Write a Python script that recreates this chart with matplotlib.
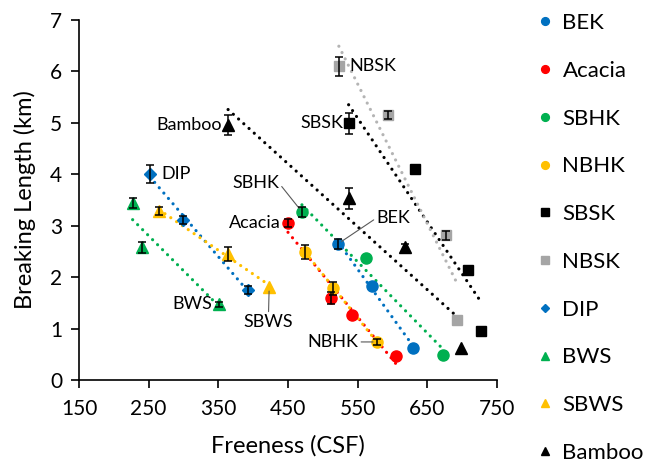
import numpy as np
import matplotlib
matplotlib.use('Agg')
from matplotlib import pyplot as plt

plt.rcParams['font.family'] = ['Lato', 'DejaVu Sans']

# ---------------------------------------------- #
# Data: freeness (CSF), breaking length (km), error (0 = no bar)
# ---------------------------------------------- #
names = ['BEK', 'Acacia', 'SBHK', 'NBHK', 'SBSK', 'NBSK', 'DIP', 'BWS', 'SBWS', 'Bamboo']

bek_x = [522, 570, 630]
bek_y = [2.65, 1.83, 0.63]
bek_err = [0.1, 0, 0]

acacia_x = [450, 512, 542, 605]
acacia_y = [3.06, 1.60, 1.26, 0.47]
acacia_err = [0.08, 0.12, 0, 0]

sbhk_x = [470, 562, 673]
sbhk_y = [3.27, 2.38, 0.48]
sbhk_err = [0.1, 0, 0]

nbhk_x = [475, 515, 578]
nbhk_y = [2.49, 1.78, 0.74]
nbhk_err = [0.14, 0.12, 0.05]

sbsk_x = [537, 633, 708, 727]
sbsk_y = [4.99, 4.10, 2.14, 0.96]
sbsk_err = [0.2, 0, 0, 0]

nbsk_x = [523, 594, 677, 693]
nbsk_y = [6.10, 5.15, 2.81, 1.17]
nbsk_err = [0.19, 0.08, 0.08, 0]

dip_x = [252, 299, 393]
dip_y = [4.01, 3.11, 1.75]
dip_err = [0.18, 0.07, 0.08]

bws_x = [227, 240, 351]
bws_y = [3.44, 2.58, 1.47]
bws_err = [0.09, 0.11, 0.05]

sbws_x = [265, 364, 423]
sbws_y = [3.29, 2.45, 1.81]
sbws_err = [0.08, 0.13, 0]

bamboo_x = [364, 538, 618, 698]
bamboo_y = [4.96, 3.53, 2.59, 0.62]
bamboo_err = [0.2, 0.2, 0.06, 0]

series = [
    (bek_x, bek_y, bek_err),
    (acacia_x, acacia_y, acacia_err),
    (sbhk_x, sbhk_y, sbhk_err),
    (nbhk_x, nbhk_y, nbhk_err),
    (sbsk_x, sbsk_y, sbsk_err),
    (nbsk_x, nbsk_y, nbsk_err),
    (dip_x, dip_y, dip_err),
    (bws_x, bws_y, bws_err),
    (sbws_x, sbws_y, sbws_err),
    (bamboo_x, bamboo_y, bamboo_err),
]

# styles
colors = ['#0070C0', '#FF0000', '#00B050', '#FFC000', '#000000',
          '#A5A5A5', '#0070C0', '#00B050', '#FFC000', '#000000']
trend_colors = ['#0070C0', '#FF0000', '#00B050', '#FFC000', '#000000',
                '#B4B4B4', '#0070C0', '#00B050', '#FFC000', '#000000']
markers = ['o', 'o', 'o', 'o', 's', 's', 'D', '^', '^', '^']
msizes = [8, 8, 8, 8, 7.5, 7.5, 6, 8, 8, 8]

# ---------------------------------------------- #
# Plot
# ---------------------------------------------- #
fig = plt.figure(figsize=(6.48, 4.63), dpi=100)
ax = fig.add_axes([79/648, 1 - 380/463, (497 - 79)/648, (380 - 20)/463])

handles = []
for si, (x, y, e) in enumerate(series):
    x = np.array(x, dtype=float)
    y = np.array(y, dtype=float)
    e = np.array(e, dtype=float)
    # linear trendline over data range
    p = np.polyfit(x, y, 1)
    xt = np.array([x.min(), x.max()])
    ax.plot(xt, np.polyval(p, xt), linestyle=(0, (0.01, 2.2)), lw=2.3,
            dash_capstyle='round', color=trend_colors[si], zorder=2)
    h, = ax.plot(x, y, linestyle='none', marker=markers[si], ms=msizes[si],
                 color=colors[si], mec=colors[si], zorder=3, label=names[si])
    handles.append(h)
    m = e > 0
    ax.errorbar(x[m], y[m], yerr=e[m], fmt='none', ecolor='black', elinewidth=1.1,
                capsize=2.8, capthick=1.1, zorder=4)

# ---------------------------------------------- #
# Labels on the series
# ---------------------------------------------- #
fs_lab = 13
line_kw = dict(arrowstyle='-', color='#595959', lw=0.8, shrinkA=0, shrinkB=3)
ax.text(268, 4.0, 'DIP', fontsize=fs_lab, ha='left', va='center')
ax.text(341, 1.47, 'BWS', fontsize=fs_lab, ha='right', va='center')
ax.text(440, 3.06, 'Acacia', fontsize=fs_lab, ha='right', va='center')
ax.text(355, 4.96, 'Bamboo', fontsize=fs_lab, ha='right', va='center')
ax.text(529, 5.0, 'SBSK', fontsize=fs_lab, ha='right', va='center')
ax.text(538, 6.1, 'NBSK', fontsize=fs_lab, ha='left', va='center')
ax.annotate('SBWS', xy=(423, 1.81), xytext=(422, 1.12), fontsize=fs_lab,
            ha='center', va='center',
            arrowprops=dict(line_kw, relpos=(0.5, 1.0)))
ax.annotate('SBHK', xy=(470, 3.27), xytext=(437, 3.83), fontsize=fs_lab,
            ha='right', va='center',
            arrowprops=dict(line_kw, relpos=(1.0, 0.5)))
ax.annotate('BEK', xy=(522, 2.65), xytext=(577, 3.15), fontsize=fs_lab,
            ha='left', va='center',
            arrowprops=dict(line_kw, relpos=(0.0, 0.5)))
ax.annotate('NBHK', xy=(578, 0.74), xytext=(551, 0.74), fontsize=fs_lab,
            ha='right', va='center',
            arrowprops=dict(line_kw, relpos=(1.0, 0.5)))

# ---------------------------------------------- #
# Format plot
# ---------------------------------------------- #
ax.set_xlim(150, 750)
ax.set_ylim(0, 7)
ax.set_xticks(np.arange(150, 751, 100))
ax.set_yticks(np.arange(0, 8, 1))
ax.tick_params(labelsize=15, length=6, width=1.2, direction='out', colors='black')
ax.tick_params(axis='x', pad=7.5)
ax.tick_params(axis='y', pad=6)
for s in ['top', 'right']:
    ax.spines[s].set_visible(False)
for s in ['left', 'bottom']:
    ax.spines[s].set_linewidth(1.2)
ax.set_xlabel('Freeness (CSF)', fontsize=17, labelpad=12)
ax.set_ylabel('Breaking Length (km)', fontsize=17, labelpad=10)

fig.legend(handles=handles, loc='upper left', bbox_to_anchor=(538/648, 1 - 13/463),
           frameon=False, fontsize=16, markerscale=0.7, handlelength=0.6,
           handletextpad=0.5, labelspacing=1.25, borderaxespad=0, borderpad=0)

fig.savefig('out.png', dpi=100)
